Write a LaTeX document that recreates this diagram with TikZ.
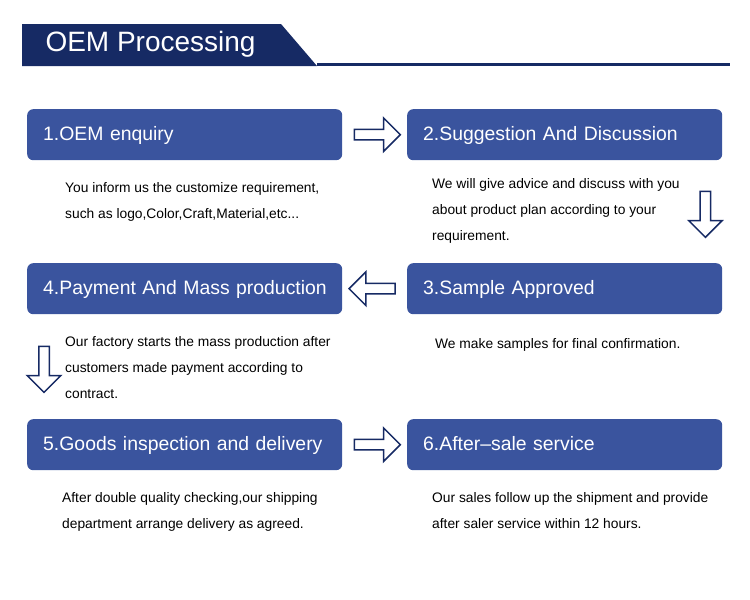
\documentclass[tikz,border=0pt]{standalone}
\usepackage{fontspec}
\setmainfont{Liberation Sans}
\usetikzlibrary{shapes.arrows,calc}
\definecolor{navy}{RGB}{22,42,100}
\definecolor{boxblue}{RGB}{58,84,158}
\tikzset{
  stepbox/.style={fill=boxblue, rounded corners=6pt, minimum height=51pt,
    text width=295pt, inner xsep=10pt, align=left, text=white,
    text height=14pt, text depth=3pt, execute at begin node={\hspace*{6pt}},
    font=\fontsize{19.4}{23}\selectfont, anchor=north west},
  desc/.style={anchor=north west, align=left, inner sep=0pt,
    font=\fontsize{13.8}{26}\selectfont},
  flowarrow/.style={single arrow, draw=navy, line width=1.5pt, fill=white,
    minimum height=46pt, inner sep=4.5pt, single arrow head extend=11.5pt},
}
\begin{document}
\begin{tikzpicture}[x=1pt,y=-1pt]
    \useasboundingbox (0,0) rectangle (750,600);
    % Header
    \fill[navy] (22,24) -- (281,24) -- (317,66) -- (22,66) -- cycle;
    \fill[navy] (317,63) rectangle (730,66);
    \node[white, anchor=west, font=\fontsize{28}{32}\selectfont] (title) at (42,44) {OEM Processing};
    % Steps
    \node[stepbox] (b1) at (27,109) {1.OEM enquiry};
    \node[stepbox] (b2) at (407,109) {2.Suggestion And Discussion};
    \node[stepbox] (b3) at (407,263) {3.Sample Approved};
    \node[stepbox] (b4) at (27,263) {4.Payment And Mass production};
    \node[stepbox] (b5) at (27,419) {5.Goods inspection and delivery};
    \node[stepbox] (b6) at (407,419) {6.After–sale service};
    % Descriptions
    \node[desc] (d1) at (65,182) {You inform us the customize requirement,\\such as logo,Color,Craft,Material,etc...};
    \node[desc] (d2) at (432,178) {We will give advice and discuss with you\\about product plan according to your\\requirement.};
    \node[desc] (d3) at (435,338) {We make samples for final confirmation.};
    \node[desc] (d4) at (65,336) {Our factory starts the mass production after\\customers made payment according to\\contract.};
    \node[desc] (d5) at (62,492) {After double quality checking,our shipping\\department arrange delivery as agreed.};
    \node[desc] (d6) at (432,492) {Our sales follow up the shipment and provide\\after saler service within 12 hours.};
    % Arrows between steps
    \node[flowarrow] (a12) at ($(b1.east)!0.5!(b2.west)$) {};
    \node[flowarrow, shape border rotate=270] (a23) at ($(b2.south east)!0.5!(b3.north east)+(-17,0)$) {};
    \node[flowarrow, shape border rotate=180] (a34) at ($(b3.west)!0.5!(b4.east)$) {};
    \node[flowarrow, shape border rotate=270] (a45) at ($(b4.south west)!0.5!(b5.north west)+(17,0)$) {};
    \node[flowarrow] (a56) at ($(b5.east)!0.5!(b6.west)$) {};
\end{tikzpicture}
\end{document}
